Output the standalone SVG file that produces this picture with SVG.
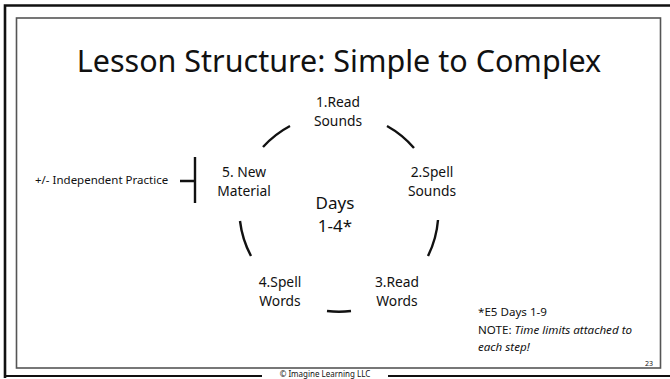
<svg xmlns="http://www.w3.org/2000/svg" width="670" height="379" viewBox="0 0 670 379">
<style>
text{font-family:"Noto Sans","Open Sans","DejaVu Sans",sans-serif;fill:#111}
.lbl{font-size:13.8px;text-anchor:middle}
.arc{fill:none;stroke:#111;stroke-width:2.4;stroke-linecap:butt}
.note{font-size:11.6px}
</style>
<rect x="0" y="0" width="670" height="379" fill="#fff"/>
<path d="M5 378 V5.5 H672" fill="none" stroke="#111" stroke-width="2.6"/>
<path d="M5 376 H672" fill="none" stroke="#111" stroke-width="2"/>
<rect x="16.5" y="18" width="644" height="350" fill="none" stroke="#555" stroke-width="1.6"/>
<rect x="262" y="369" width="126" height="10" fill="#fff"/>
<text x="325" y="376.5" font-size="8" text-anchor="middle">© Imagine Learning LLC</text>

<text x="339" y="72" font-size="30.5" text-anchor="middle">Lesson Structure: Simple to Complex</text>

<g id="connectors">
<path class="arc" d="M263 147 A99 99 0 0 1 290 126"/>
<path class="arc" d="M387 126 A99 99 0 0 1 414 148"/>
<path class="arc" d="M438 220 A99 99 0 0 1 428 256"/>
<path class="arc" d="M351 311 A99 99 0 0 1 327 311"/>
<path class="arc" d="M251 256 A99 99 0 0 1 240 221"/>
<path class="arc" d="M180 181 H195 M195 157 V203" stroke-width="2"/>
</g>

<g id="n1"><text class="lbl" x="338" y="107">1.Read</text><text class="lbl" x="338" y="126">Sounds</text></g>
<g id="n2"><text class="lbl" x="432" y="177">2.Spell</text><text class="lbl" x="432" y="196">Sounds</text></g>
<g id="n3"><text class="lbl" x="397" y="287">3.Read</text><text class="lbl" x="397" y="306">Words</text></g>
<g id="n4"><text class="lbl" x="280" y="287">4.Spell</text><text class="lbl" x="280" y="306">Words</text></g>
<g id="n5"><text class="lbl" x="244" y="177">5. New</text><text class="lbl" x="244" y="196">Material</text></g>
<g id="center"><text x="335" y="209" font-size="17" text-anchor="middle">Days</text><text x="335" y="232" font-size="17" text-anchor="middle">1-4*</text></g>
<g id="practice"><text x="35" y="184" font-size="11.5">+/- Independent Practice</text></g>

<g id="notes">
<text class="note" x="478" y="316">*E5 Days 1-9</text>
<text class="note" x="478" y="334">NOTE: <tspan font-style="italic">Time limits attached to</tspan></text>
<text class="note" x="478" y="351" font-style="italic">each step!</text>
<text x="653" y="366" font-size="7" text-anchor="end">23</text>
</g>
</svg>
